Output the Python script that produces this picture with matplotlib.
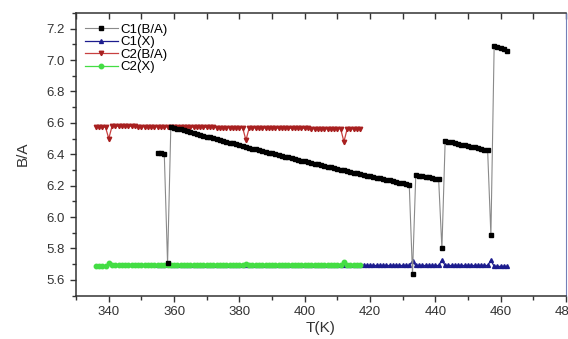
import numpy as np
import matplotlib.pyplot as plt
from matplotlib.ticker import MultipleLocator

plt.rcParams['font.family'] = ['Liberation Sans', 'DejaVu Sans']

# temperature grids (1 K steps)
t_c1 = np.arange(355, 463)
t_c2 = np.arange(336, 418)

# C1 B/A ratio, 355..462 K
c1_ba = [
    6.410, 6.405, 6.400, 5.706,
    6.575, 6.569, 6.563, 6.558, 6.552, 6.546, 6.541, 6.535, 6.529, 6.524,
    6.518, 6.512, 6.507, 6.501, 6.496, 6.490, 6.485, 6.479, 6.474, 6.469,
    6.463, 6.458, 6.452, 6.447, 6.442, 6.436, 6.431, 6.426, 6.421, 6.415,
    6.410, 6.405, 6.400, 6.395, 6.390, 6.385, 6.380, 6.374, 6.369, 6.364,
    6.359, 6.354, 6.350, 6.345, 6.340, 6.335, 6.330, 6.325, 6.320, 6.316,
    6.311, 6.306, 6.301, 6.297, 6.292, 6.287, 6.283, 6.278, 6.273, 6.269,
    6.264, 6.260, 6.255, 6.251, 6.246, 6.242, 6.237, 6.233, 6.228, 6.224,
    6.219, 6.215, 6.211, 6.206,
    5.638,
    6.268, 6.264, 6.260, 6.256, 6.252, 6.248, 6.244, 6.240,
    5.800,
    6.485, 6.480, 6.476, 6.471, 6.467, 6.462, 6.457, 6.453, 6.448, 6.444,
    6.439, 6.434, 6.430, 6.425,
    5.883,
    7.092, 7.084, 7.076, 7.068, 7.060,
]

# C1 X, 355..462 K
c1_x = [
    5.692, 5.692, 5.692, 5.706, 5.692, 5.692, 5.692, 5.692, 5.692, 5.692,
    5.692, 5.692, 5.692, 5.692, 5.692, 5.692, 5.692, 5.692, 5.692, 5.692,
    5.692, 5.692, 5.692, 5.692, 5.692, 5.692, 5.692, 5.692, 5.692, 5.692,
    5.692, 5.692, 5.692, 5.692, 5.692, 5.692, 5.692, 5.692, 5.692, 5.692,
    5.692, 5.692, 5.692, 5.692, 5.692, 5.692, 5.692, 5.692, 5.692, 5.692,
    5.692, 5.692, 5.692, 5.692, 5.692, 5.692, 5.692, 5.692, 5.692, 5.692,
    5.692, 5.692, 5.692, 5.692, 5.692, 5.692, 5.692, 5.692, 5.692, 5.692,
    5.692, 5.692, 5.692, 5.692, 5.692, 5.692, 5.692, 5.692, 5.720, 5.692,
    5.692, 5.692, 5.692, 5.692, 5.692, 5.692, 5.692, 5.725, 5.692, 5.692,
    5.692, 5.692, 5.692, 5.692, 5.692, 5.692, 5.692, 5.692, 5.692, 5.692,
    5.692, 5.692, 5.725, 5.686, 5.686, 5.686, 5.686, 5.686,
]

# C2 B/A ratio, 336..417 K
c2_ba = [
    6.572, 6.572, 6.572, 6.572, 6.500, 6.578, 6.578, 6.578, 6.578, 6.577,
    6.577, 6.577, 6.577, 6.576, 6.576, 6.576, 6.576, 6.575, 6.575, 6.575,
    6.575, 6.574, 6.574, 6.574, 6.574, 6.573, 6.573, 6.573, 6.573, 6.572,
    6.572, 6.572, 6.572, 6.571, 6.571, 6.571, 6.571, 6.570, 6.570, 6.570,
    6.570, 6.569, 6.569, 6.569, 6.569, 6.568, 6.490, 6.568, 6.568, 6.568,
    6.567, 6.567, 6.567, 6.567, 6.566, 6.566, 6.566, 6.566, 6.565, 6.565,
    6.565, 6.565, 6.564, 6.564, 6.564, 6.564, 6.563, 6.563, 6.563, 6.563,
    6.562, 6.562, 6.562, 6.562, 6.562, 6.562, 6.480, 6.562, 6.562, 6.562,
    6.562, 6.562,
]

# C2 X, 336..417 K
c2_x = [
    5.690, 5.690, 5.690, 5.690, 5.705, 5.692, 5.692, 5.692, 5.692, 5.692,
    5.692, 5.692, 5.692, 5.692, 5.692, 5.692, 5.692, 5.692, 5.692, 5.692,
    5.692, 5.692, 5.692, 5.692, 5.692, 5.692, 5.692, 5.692, 5.692, 5.692,
    5.692, 5.692, 5.692, 5.692, 5.692, 5.692, 5.692, 5.692, 5.692, 5.692,
    5.692, 5.692, 5.692, 5.692, 5.692, 5.692, 5.702, 5.692, 5.692, 5.692,
    5.692, 5.692, 5.692, 5.692, 5.692, 5.692, 5.692, 5.692, 5.692, 5.692,
    5.692, 5.692, 5.692, 5.692, 5.692, 5.692, 5.692, 5.692, 5.692, 5.692,
    5.692, 5.692, 5.692, 5.692, 5.692, 5.692, 5.712, 5.692, 5.692, 5.692,
    5.692, 5.692,
]

fig = plt.figure(figsize=(5.68, 3.39), dpi=100)
ax = fig.add_axes([0.134, 0.128, 0.8625, 0.834])

ax.plot(t_c1, c1_ba, color='#8a8a8a', lw=0.8, marker='s', ms=3.1,
        mfc='black', mec='black', label='C1(B/A)', zorder=4)
ax.plot(t_c1, c1_x, color='#1c1c8e', lw=0.9, marker='^', ms=2.8,
        mfc='#1c1c8e', mec='#1c1c8e', label='C1(X)', zorder=2)
ax.plot(t_c2, c2_ba, color='#c84040', lw=0.9, marker='v', ms=3.2,
        mfc='#a82020', mec='#a82020', label='C2(B/A)', zorder=3)
ax.plot(t_c2, c2_x, color='#44dd44', lw=0.9, marker='o', ms=3.2,
        mfc='#44dd44', mec='#44dd44', label='C2(X)', zorder=3)

ax.set_xlim(330, 480)
ax.set_ylim(5.5, 7.3)
ax.xaxis.set_major_locator(MultipleLocator(20))
ax.xaxis.set_minor_locator(MultipleLocator(10))
ax.yaxis.set_major_locator(MultipleLocator(0.2))
ax.yaxis.set_minor_locator(MultipleLocator(0.1))
ax.yaxis.set_major_formatter(plt.FormatStrFormatter('%.1f'))

ax.tick_params(axis='both', which='both', direction='out', labelsize=9.5,
               colors='#333333', width=1)
ax.tick_params(axis='both', which='major', length=4.5)
ax.tick_params(axis='both', which='minor', length=3)
ax.tick_params(axis='x', which='both', pad=3)

for side in ['left', 'bottom', 'top']:
    ax.spines[side].set_color('#333333')
    ax.spines[side].set_linewidth(1.1)
ax.spines['right'].set_color('#7480b8')
ax.spines['right'].set_linewidth(0.8)

# inward ticks along the top edge, no labels
top = ax.secondary_xaxis('top')
top.xaxis.set_major_locator(MultipleLocator(20))
top.xaxis.set_minor_locator(MultipleLocator(10))
top.tick_params(axis='x', which='both', direction='in', length=4,
                width=1, colors='#333333', labeltop=False)
top.spines['top'].set_visible(False)

ax.set_xlabel('T(K)', fontsize=11, color='#333333', labelpad=2)
ax.set_ylabel('B/A', fontsize=11, color='#333333', labelpad=12)

ax.legend(loc='upper left', bbox_to_anchor=(0.0, 0.993), frameon=False,
          fontsize=9.5, handlelength=2.5, handletextpad=0.2,
          labelspacing=0.02, borderaxespad=0.25, markerscale=1.0)

fig.savefig('out.png', dpi=100)
